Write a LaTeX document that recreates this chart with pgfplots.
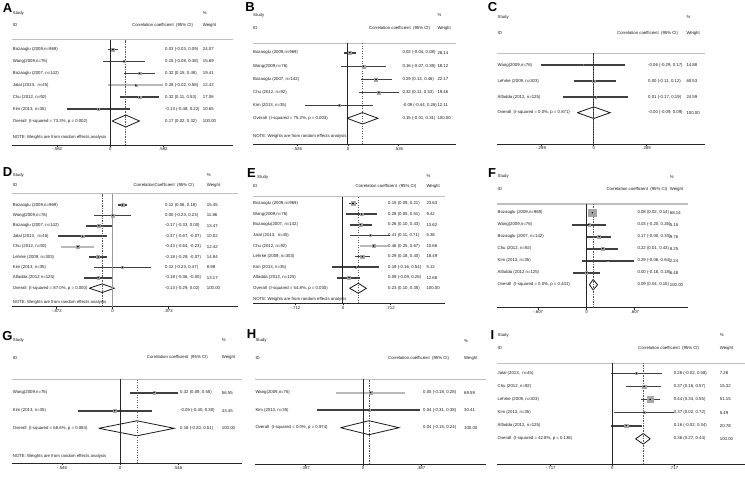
\documentclass[border=0pt]{standalone}
\usepackage{fontspec}
\setmainfont{Liberation Sans}
\usepackage{pgfplots}
\pgfplotsset{compat=1.18}
\newcommand\fs{\fontsize{4.3bp}{5bp}\selectfont}
\tikzset{txt/.style={anchor=west, inner sep=0pt, font=\fs, text=black!90},
         lett/.style={anchor=center, inner sep=0pt, font=\fontsize{13bp}{13bp}\selectfont\bfseries}}
\pgfplotsset{fp/.style={anchor=south west, scale only axis, ymin=0, axis x line=bottom, axis y line=none, ytick=\empty,
  axis line style={-, black!85, line width=1.0bp}, tick align=outside, major tick length=2bp,
  tick style={black!85, line width=0.8bp}, xticklabel style={font=\fs, text=black!90, inner sep=0.6bp}, clip=false},
  dmd/.style={black!90, line width=0.8bp, mark=none}}
\newcommand\row[7]{\node[txt] at (#1bp,-#4bp) {#5}; \node[txt] at (#2bp,-#4bp) {#6}; \node[txt] at (#3bp,-#4bp) {#7};}
\newcommand\hdr[6]{\node[txt] at (#1bp,-#4bp) {Study}; \node[txt] at (#1bp,-#5bp) {ID}; \node[txt] at (#3bp,-#4bp) {\%}; \node[txt] at (#3bp,-#5bp) {Weight}; \node[txt] at (#2bp,-#5bp) {#6};}
\newcommand\refl[3][black!85, line width=1.0bp]{%
  \draw[black!25, line width=1.4bp] (rel axis cs:0,1) -- (rel axis cs:1,1);
  \draw[#1] (axis cs:0,0) -- (axis cs:0,#2);
  \draw[black!65, line width=0.8bp, dash pattern=on 1.3bp off 1.2bp] (axis cs:#3,0) -- (axis cs:#3,#2);}
% one study: y, estimate, lower, upper, weight, box scale, CI-line style
\newcommand\st[7]{%
  \addplot[#7, mark=none] coordinates {(#3,#1) (#4,#1)};
  \addplot[only marks, mark=square*, mark size={#6*sqrt(#5)}, draw=gray!70, fill=gray!70] coordinates {(#2,#1)};
  \addplot[only marks, mark=*, mark size=0.5bp, black] coordinates {(#2,#1)};}
\tikzset{cb/.style={black!75, line width=1.6bp}, cg/.style={gray!55, line width=1.8bp}}
\newcommand\CIH{Correlation coefficient\ \ (95\% CI)}
\newcommand\NOTE{NOTE: Weights are from random effects analysis}

\begin{document}
\begin{tikzpicture}
\path[use as bounding box] (0,0) rectangle (745bp,-478bp);

% ---------------- A
\begin{axis}[fp, at={(11.7bp,-145bp)}, width=221.6bp, height=105.5bp, xmin=-1.081, xmax=1.349, ymax=105.5,
  xtick={-0.582,0,0.582}, xticklabels={-.582,0,.582}]
\st{95.5}{0.03}{-0.03}{0.09}{24.07}{0.306}{cb}
\st{83.6}{0.15}{-0.08}{0.38}{15.69}{0.306}{cb}
\st{71.7}{0.32}{0.15}{0.49}{19.41}{0.306}{cb}
\st{59.8}{0.28}{-0.02}{0.58}{12.42}{0.306}{cg}
\st{47.9}{0.32}{0.11}{0.53}{17.06}{0.306}{cb}
\st{36.0}{-0.13}{-0.48}{0.22}{10.65}{0.306}{cb}
\addplot[dmd] coordinates {(0.02,24) (0.17,30) (0.32,24) (0.17,18) (0.02,24)};
\refl{105.5}{0.17}
\end{axis}
\node[lett] at (7.5bp,-8.5bp) {A};
\hdr{12.7}{132}{202.7}{13.3}{25}{\CIH}
\row{12.7}{165}{202.7}{49.5}{Bozaoglu (2009,n=969)}{0.03 (-0.03, 0.09)}{24.07}
\row{12.7}{165}{202.7}{61.4}{Wang(2009,n=76)}{0.15 (-0.08, 0.38)}{15.69}
\row{12.7}{165}{202.7}{73.3}{Bozaoglu (2007, n=142)}{0.32 (0.15, 0.49)}{19.41}
\row{12.7}{165}{202.7}{85.2}{Jalal (2013,\ \ n=45)}{0.28 (-0.02, 0.58)}{12.42}
\row{12.7}{165}{202.7}{97.1}{Chu (2012, n=92)}{0.32 (0.11, 0.53)}{17.06}
\row{12.7}{165}{202.7}{109}{Kim (2013, n=35)}{-0.13 (-0.48, 0.22)}{10.65}
\row{12.7}{165}{202.7}{121}{Overall\ \ (I-squared = 73.3\%, p = 0.002)}{0.17 (0.02, 0.32)}{100.00}
\node[txt] at (12.7bp,-137bp) {\NOTE};

% ---------------- B
\begin{axis}[fp, at={(253bp,-144.3bp)}, width=203.3bp, height=101bp, xmin=-0.982, xmax=1.120, ymax=101,
  xtick={-0.526,0,0.526}, xticklabels={-.526,0,.526}]
\st{91.6}{0.02}{-0.04}{0.08}{28.14}{0.33}{cb}
\st{78.0}{0.16}{-0.07}{0.39}{18.12}{0.33}{cb}
\st{65.0}{0.29}{0.13}{0.46}{22.17}{0.33}{cb}
\st{52.0}{0.32}{0.11}{0.53}{19.46}{0.33}{cb}
\st{39.0}{-0.09}{-0.44}{0.26}{12.11}{0.33}{cb}
\addplot[dmd] coordinates {(-0.01,26) (0.15,31.7) (0.31,26) (0.15,20.3) (-0.01,26)};
\refl{101}{0.15}
\end{axis}
\node[lett] at (250bp,-7.5bp) {B};
\hdr{253}{369}{437.3}{15}{28.3}{\CIH}
\row{253}{402.3}{437.3}{52.7}{Bozaoglu (2009,n=969)}{0.02 (-0.04, 0.08)}{28.14}
\row{253}{402.3}{437.3}{66.3}{Wang(2009,n=76)}{0.16 (-0.07, 0.39)}{18.12}
\row{253}{402.3}{437.3}{79.3}{Bozaoglu (2007, n=142)}{0.29 (0.13, 0.46)}{22.17}
\row{253}{402.3}{437.3}{92.3}{Chu (2012, n=92)}{0.32 (0.11, 0.53)}{19.46}
\row{253}{402.3}{437.3}{105.3}{Kim (2013, n=35)}{-0.09 (-0.44, 0.26)}{12.11}
\row{253}{402.3}{437.3}{118.3}{Overall\ \ (I-squared = 75.2\%, p = 0.003)}{0.15 (-0.01, 0.31)}{100.00}
\node[txt] at (253bp,-136.7bp) {\NOTE};

% ---------------- C
\begin{axis}[fp, at={(497bp,-144bp)}, width=208.3bp, height=90.7bp, xmin=-0.530, xmax=0.611, ymax=90.7,
  xtick={-0.289,0,0.289}, xticklabels={-.289,0,.289}]
\st{79.0}{-0.06}{-0.29}{0.17}{14.88}{0.16}{cb}
\st{63.0}{0.00}{-0.11}{0.12}{60.53}{0.16}{cb}
\st{47.0}{0.01}{-0.17}{0.19}{24.59}{0.16}{cb}
\addplot[dmd] coordinates {(-0.09,31.3) (0,37.1) (0.09,31.3) (0,25.5) (-0.09,31.3)};
\refl{90.7}{0}
\end{axis}
\node[lett] at (492.5bp,-7.5bp) {C};
\hdr{497.5}{617}{686.3}{17.3}{33.3}{\CIH}
\row{497.5}{648}{686.3}{65}{Wang(2009,n=76)}{-0.06 (-0.29, 0.17)}{14.88}
\row{497.5}{648}{686.3}{81}{Lehrke (2009, n=303)}{0.00 (-0.11, 0.12)}{60.53}
\row{497.5}{648}{686.3}{97}{Alfadda (2012, n=125)}{0.01 (-0.17, 0.19)}{24.59}
\row{497.5}{648}{686.3}{112.7}{Overall\ \ (I-squared = 0.0\%, p = 0.871)}{-0.00 (-0.09, 0.09)}{100.00}

% ---------------- D
\begin{axis}[fp, at={(11.7bp,-306.7bp)}, width=226.6bp, height=113.2bp, xmin=-1.247, xmax=1.551, ymax=113.2,
  xtick={-0.69,0,0.69}, xticklabels={-.872,0,.872}]
\st{101.7}{0.12}{0.06}{0.18}{15.45}{0.38}{cb}
\st{91.3}{0.00}{-0.23}{0.23}{11.86}{0.38}{cb}
\st{80.9}{-0.17}{-0.33}{0.00}{13.47}{0.38}{cb}
\st{70.5}{-0.37}{-0.67}{-0.07}{10.02}{0.38}{cb}
\st{60.1}{-0.43}{-0.64}{-0.23}{12.42}{0.38}{cg}
\st{49.7}{-0.18}{-0.29}{-0.07}{14.84}{0.38}{cb}
\st{39.3}{0.12}{-0.23}{0.47}{8.98}{0.38}{cb}
\st{28.9}{-0.18}{-0.36}{-0.00}{13.17}{0.38}{cb}
\addplot[dmd] coordinates {(-0.29,18.5) (-0.13,22.8) (0.02,18.5) (-0.13,14.2) (-0.29,18.5)};
\refl[black!40, line width=1.6bp]{113.2}{-0.13}
\end{axis}
\node[lett] at (7.5bp,-172.5bp) {D};
\hdr{12.7}{133.3}{206.7}{175}{185}{CorrelationCoefficient\ \ (95\% CI)}
\row{12.7}{165}{206.7}{205}{Bozaoglu (2009,n=969)}{0.12 (0.06, 0.18)}{15.45}
\row{12.7}{165}{206.7}{215.4}{Wang(2009,n=76)}{0.00 (-0.23, 0.23)}{11.86}
\row{12.7}{165}{206.7}{225.8}{Bozaoglu (2007, n=142)}{-0.17 (-0.33, 0.00)}{13.47}
\row{12.7}{165}{206.7}{236.2}{Jalal (2013,\ \ n=45)}{-0.37 (-0.67, -0.07)}{10.02}
\row{12.7}{165}{206.7}{246.6}{Chu (2012, n=92)}{-0.43 (-0.64, -0.23)}{12.42}
\row{12.7}{165}{206.7}{257}{Lehrke (2009, n=303)}{-0.18 (-0.29, -0.07)}{14.84}
\row{12.7}{165}{206.7}{267.4}{Kim (2013, n=35)}{0.12 (-0.23, 0.47)}{8.98}
\row{12.7}{165}{206.7}{277.8}{Alfadda (2012 n=125)}{-0.18 (-0.36, -0.00)}{13.17}
\row{12.7}{165}{206.7}{288.2}{Overall\ \ (I-squared = 87.0\%, p = 0.000)}{-0.13 (-0.29, 0.02)}{100.00}
\node[txt] at (12.7bp,-302.3bp) {\NOTE};

% ---------------- E
\begin{axis}[fp, at={(253bp,-303.3bp)}, width=191.7bp, height=106.6bp, xmin=-1.349, xmax=1.525, ymax=106.6,
  xtick={-0.712,0,0.712}, xticklabels={-.712,0,.712}]
\st{99.8}{0.15}{0.09}{0.21}{23.63}{0.41}{cb}
\st{89.2}{0.28}{0.05}{0.51}{9.42}{0.41}{cb}
\st{78.6}{0.26}{0.10}{0.43}{13.62}{0.41}{cb}
\st{68.0}{0.41}{0.11}{0.71}{5.38}{0.41}{cb}
\st{57.4}{0.46}{0.25}{0.67}{10.66}{0.41}{cg}
\st{46.8}{0.29}{0.18}{0.40}{18.49}{0.41}{cb}
\st{36.2}{0.19}{-0.16}{0.54}{5.12}{0.41}{cb}
\st{25.6}{0.09}{-0.09}{0.26}{12.68}{0.41}{cb}
\addplot[dmd] coordinates {(0.10,15) (0.23,20) (0.35,15) (0.23,10) (0.10,15)};
\refl{106.6}{0.23}
\end{axis}
\node[lett] at (251.5bp,-173.5bp) {E};
\node[txt] at (257bp,-177.5bp) {Study};
\node[txt] at (253bp,-186.5bp) {ID};
\node[txt] at (426.3bp,-176bp) {\%};
\node[txt] at (426.3bp,-186.5bp) {Weight};
\node[txt] at (355.3bp,-186.5bp) {\CIH};
\row{253}{388}{426.3}{203.5}{Bozaoglu (2009,n=969)}{0.15 (0.09, 0.21)}{23.63}
\row{253}{388}{426.3}{214.1}{Wang(2009,n=76)}{0.28 (0.05, 0.51)}{9.42}
\row{253}{388}{426.3}{224.7}{Bozaoglu(2007, n=142)}{0.26 (0.10, 0.43)}{13.62}
\row{253}{388}{426.3}{235.3}{Jalal (2013,\ \ n=45)}{0.41 (0.11, 0.71)}{5.38}
\row{253}{388}{426.3}{245.9}{Chu (2012, n=92)}{0.46 (0.25, 0.67)}{10.66}
\row{253}{388}{426.3}{256.5}{Lehrke (2009, n=303)}{0.29 (0.18, 0.40)}{18.49}
\row{253}{388}{426.3}{267.1}{Kim (2013, n=35)}{0.19 (-0.16, 0.54)}{5.12}
\row{253}{388}{426.3}{277.7}{Alfadda (2012, n=125)}{0.09 (-0.09, 0.26)}{12.68}
\row{253}{388}{426.3}{288.3}{Overall\ \ (I-squared = 54.8\%, p = 0.030)}{0.23 (0.10, 0.35)}{100.00}
\node[txt] at (253bp,-299bp) {\NOTE};

% ---------------- F
\begin{axis}[fp, at={(497bp,-307.7bp)}, width=191bp, height=103.7bp, xmin=-1.213, xmax=1.375, ymax=103.7,
  xtick={-0.655,0,0.655}, xticklabels={-.607,0,.607}]
\st{95}{0.08}{0.02}{0.14}{68.14}{0.455}{cb}
\st{83}{0.03}{-0.20}{0.26}{5.15}{0.455}{cb}
\st{71}{0.17}{-0.00}{0.33}{9.76}{0.455}{cb}
\st{59}{0.22}{0.01}{0.43}{8.25}{0.455}{cb}
\st{47}{0.29}{-0.06}{0.64}{2.24}{0.455}{cb}
\st{35}{0.00}{-0.18}{0.18}{6.48}{0.455}{cb}
\addplot[dmd] coordinates {(0.04,23) (0.09,28.3) (0.15,23) (0.09,17.7) (0.04,23)};
\refl{103.7}{0.09}
\end{axis}
\node[lett] at (492bp,-173bp) {F};
\hdr{497.5}{606.3}{669.7}{176.7}{189.3}{\CIH}
\row{497.5}{637.3}{669.7}{212.7}{Bozaoglu (2009,n=969)}{0.08 (0.02, 0.14)}{68.14}
\row{497.5}{637.3}{669.7}{224.7}{Wang(2009,n=76)}{0.03 (-0.20, 0.26)}{5.15}
\row{497.5}{637.3}{669.7}{236.7}{Bozaoglu (2007, n=142)}{0.17 (-0.00, 0.33)}{9.76}
\row{497.5}{637.3}{669.7}{248.7}{Chu (2012, n=92)}{0.22 (0.01, 0.43)}{8.25}
\row{497.5}{637.3}{669.7}{260.7}{Kim (2013, n=35)}{0.29 (-0.06, 0.64)}{2.24}
\row{497.5}{637.3}{669.7}{272.7}{Alfadda (2012 n=125)}{0.00 (-0.18, 0.18)}{6.48}
\row{497.5}{637.3}{669.7}{284.7}{Overall\ \ (I-squared = 0.0\%, p = 0.441)}{0.09 (0.04, 0.15)}{100.00}

% ---------------- G
\begin{axis}[fp, at={(11.7bp,-463.3bp)}, width=230bp, height=84bp, xmin=-1.020, xmax=1.146, ymax=84,
  xtick={-0.546,0,0.546}, xticklabels={-.546,0,.546}]
\st{70.6}{0.32}{0.09}{0.55}{56.55}{0.167}{cb}
\st{52.6}{-0.05}{-0.40}{0.30}{43.45}{0.167}{cb}
\addplot[dmd] coordinates {(-0.20,35) (0.16,42.5) (0.51,35) (0.16,27.5) (-0.20,35)};
\refl{84}{0.16}
\end{axis}
\node[lett] at (7.5bp,-336bp) {G};
\hdr{12.7}{146.7}{221.7}{340}{357.7}{\CIH}
\row{12.7}{180}{221.7}{392.7}{Wang(2009,n=76)}{0.32 (0.09, 0.55)}{56.55}
\row{12.7}{180}{221.7}{410.7}{Kim (2013, n=35)}{-0.05 (-0.40, 0.30)}{43.45}
\row{12.7}{180}{221.7}{428.3}{Overall\ \ (I-squared = 68.6\%, p = 0.084)}{0.16 (-0.20, 0.51)}{100.00}
\node[txt] at (12.7bp,-456bp) {\NOTE};

% ---------------- H
\begin{axis}[fp, at={(254.7bp,-464bp)}, width=231.6bp, height=84.7bp, xmin=-0.722, xmax=0.822, ymax=84.7,
  xtick={-0.387,0,0.387}, xticklabels={-.387,0,.387}]
\st{71.3}{0.05}{-0.18}{0.28}{69.59}{0.18}{cg}
\st{54.0}{0.04}{-0.31}{0.38}{30.41}{0.18}{cb}
\addplot[dmd] coordinates {(-0.15,36.3) (0.04,43.3) (0.24,36.3) (0.04,29.3) (-0.15,36.3)};
\refl{84.7}{0.04}
\end{axis}
\node[lett] at (251.5bp,-334bp) {H};
\hdr{255.3}{388}{464}{340.7}{358.3}{\CIH}
\row{255.3}{423}{464}{392.7}{Wang(2009,n=76)}{0.05 (-0.18, 0.28)}{69.59}
\row{255.3}{423}{464}{410}{Kim (2013, n=35)}{0.04 (-0.31, 0.38)}{30.41}
\row{255.3}{423}{464}{427.7}{Overall\ \ (I-squared = 0.0\%, p = 0.974)}{0.04 (-0.15, 0.24)}{100.00}

% ---------------- I
\begin{axis}[fp, at={(497bp,-464bp)}, width=248bp, height=100.7bp, xmin=-1.341, xmax=1.543, ymax=100.7,
  xtick={-0.717,0,0.717}, xticklabels={-.717,0,.717}]
\st{90.7}{0.28}{-0.02}{0.58}{7.26}{0.40}{cb}
\st{77.6}{0.37}{0.16}{0.57}{15.32}{0.40}{cb}
\st{64.5}{0.44}{0.33}{0.55}{51.15}{0.40}{cb}
\st{51.4}{0.37}{0.02}{0.72}{5.49}{0.40}{cb}
\st{38.3}{0.16}{-0.02}{0.34}{20.78}{0.40}{cb}
\addplot[dmd] coordinates {(0.27,25.2) (0.36,30.5) (0.44,25.2) (0.36,19.9) (0.27,25.2)};
\refl{100.7}{0.36}
\end{axis}
\node[lett] at (492.5bp,-335bp) {I};
\hdr{497.5}{638}{719.7}{335}{348.3}{\CIH}
\row{497.5}{673.7}{719.7}{373.3}{Jalal (2013,\ \ n=45)}{0.28 (-0.02, 0.58)}{7.26}
\row{497.5}{673.7}{719.7}{386.4}{Chu (2012, n=92)}{0.37 (0.16, 0.57)}{15.32}
\row{497.5}{673.7}{719.7}{399.5}{Lehrke (2009, n=303)}{0.44 (0.33, 0.55)}{51.15}
\row{497.5}{673.7}{719.7}{412.6}{Kim (2013, n=35)}{0.37 (0.02, 0.72)}{5.49}
\row{497.5}{673.7}{719.7}{425.7}{Alfadda (2012, n=125)}{0.16 (-0.02, 0.34)}{20.78}
\row{497.5}{673.7}{719.7}{438.8}{Overall\ \ (I-squared = 42.8\%, p = 0.136)}{0.36 (0.27, 0.44)}{100.00}
\end{tikzpicture}
\end{document}
